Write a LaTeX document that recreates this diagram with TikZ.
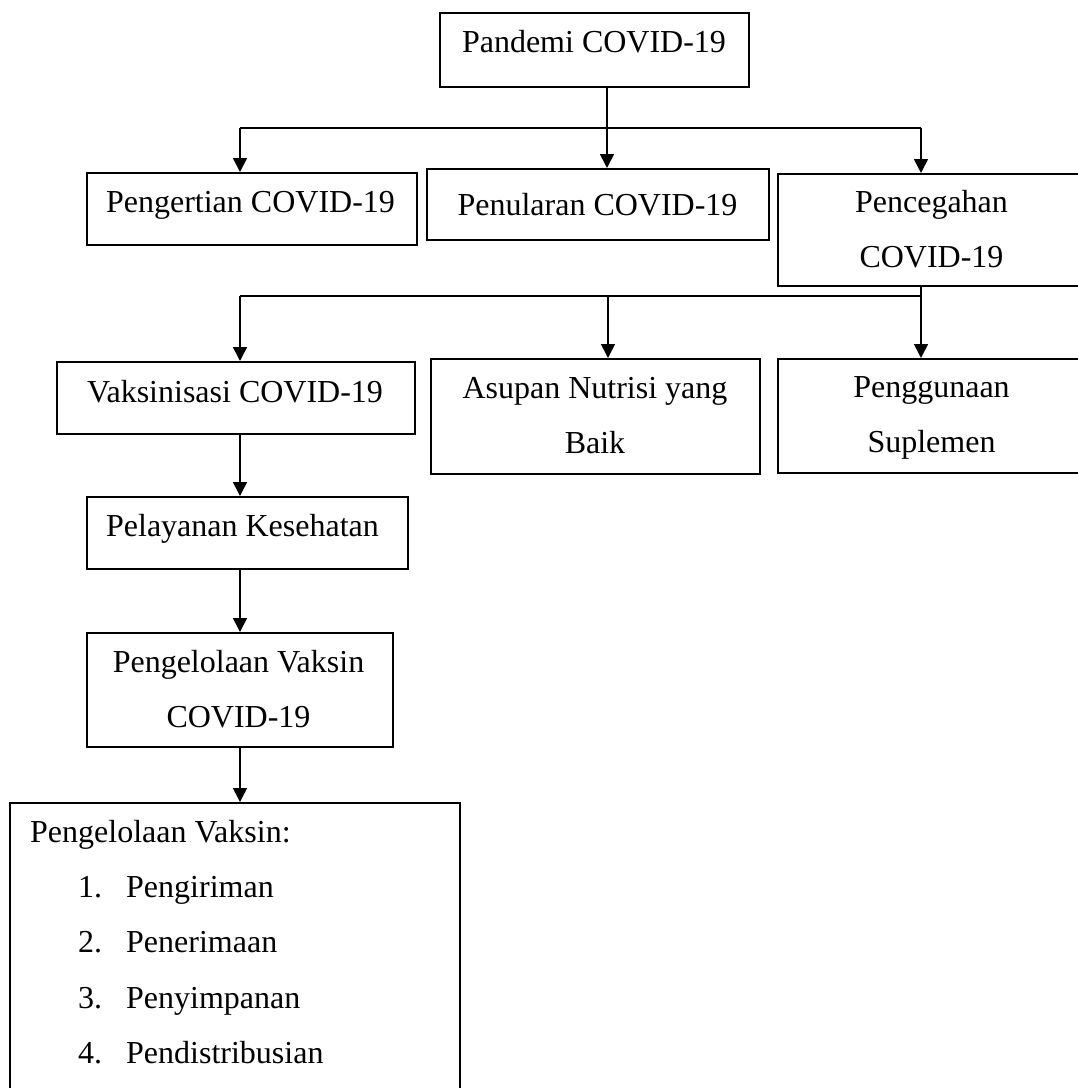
\documentclass[tikz,border=0pt]{standalone}
\usepackage{fontspec}
\setmainfont{Liberation Serif}
\usetikzlibrary{arrows.meta}
\begin{document}
\begin{tikzpicture}[x=1pt,y=-1pt,
  box/.style={draw, line width=1.5pt, rectangle, inner sep=0pt, anchor=north west},
  txt/.style={anchor=base, inner sep=0pt, font=\fontsize{32}{38}\selectfont},
  txtl/.style={anchor=base west, inner sep=0pt, font=\fontsize{32}{38}\selectfont},
  conn/.style={line width=1.6pt},
  arr/.style={line width=1.6pt, -{Triangle[length=14pt,width=14pt]}}]
\useasboundingbox (0,0) rectangle (1078,1088);
% boxes
\node[box, minimum width=309pt, minimum height=74pt] (pandemi) at (439,12) {};
\node[box, minimum width=330pt, minimum height=72pt] (pengertian) at (86,172) {};
\node[box, minimum width=342pt, minimum height=71pt] (penularan) at (426,168) {};
\node[box, minimum width=310pt, minimum height=112pt] (pencegahan) at (777,173) {};
\node[box, minimum width=358pt, minimum height=72pt] (vaksin) at (56,361) {};
\node[box, minimum width=329pt, minimum height=115pt] (asupan) at (430,358) {};
\node[box, minimum width=310pt, minimum height=114pt] (penggunaan) at (777,358) {};
\node[box, minimum width=321pt, minimum height=72pt] (pelayanan) at (86,496) {};
\node[box, minimum width=306pt, minimum height=114pt] (pengelolaan) at (86,632) {};
\node[box, minimum width=450pt, minimum height=300pt] (daftar) at (9,802) {};
% texts
\node[txt] (t-pandemi) at (594,52) {Pandemi COVID-19};
\node[txt] (t-pengertian) at (250.5,212) {Pengertian COVID-19};
\node[txt] (t-penularan) at (597.5,215) {Penularan COVID-19};
\node[txt] (t-pencegahan1) at (931.5,212) {Pencegahan};
\node[txt] (t-pencegahan2) at (931.5,267) {COVID-19};
\node[txt] (t-vaksin) at (235,402) {Vaksinisasi COVID-19};
\node[txt] (t-asupan1) at (595,398) {Asupan Nutrisi yang};
\node[txt] (t-asupan2) at (595,453) {Baik};
\node[txt] (t-penggunaan1) at (931.5,397) {Penggunaan};
\node[txt] (t-penggunaan2) at (931.5,452) {Suplemen};
\node[txt] (t-pelayanan) at (242.5,536) {Pelayanan Kesehatan};
\node[txt] (t-pengelolaan1) at (238.5,672) {Pengelolaan Vaksin};
\node[txt] (t-pengelolaan2) at (238.5,727) {COVID-19};
\node[txtl] (t-judul) at (30,842) {Pengelolaan Vaksin:};
\node[txtl] (n1) at (78,897) {1.};
\node[txtl] (i1) at (126,897) {Pengiriman};
\node[txtl] (n2) at (78,952) {2.};
\node[txtl] (i2) at (126,952) {Penerimaan};
\node[txtl] (n3) at (78,1008) {3.};
\node[txtl] (i3) at (126,1008) {Penyimpanan};
\node[txtl] (n4) at (78,1063) {4.};
\node[txtl] (i4) at (126,1063) {Pendistribusian};
% junctions
\coordinate (h1L) at (240,128);
\coordinate (h1M) at (607,128);
\coordinate (h1R) at (921,128);
\coordinate (h2L) at (240,296);
\coordinate (h2M) at (608,296);
\coordinate (h2R) at (921,296);
% connectors level 1
\draw[conn] (h1L) -- (h1R);
\draw[arr] (pandemi.south -| h1M) -- (penularan.north -| h1M);
\draw[arr] (h1L) -- (pengertian.north -| h1L);
\draw[arr] (h1R) -- (pencegahan.north -| h1R);
% connectors level 2
\draw[conn] (h2L) -- (h2R);
\draw[arr] (pencegahan.south -| h2R) -- (penggunaan.north -| h2R);
\draw[arr] (h2M) -- (asupan.north -| h2M);
\draw[arr] (h2L) -- (vaksin.north -| h2L);
% vertical chain
\draw[arr] (vaksin.south -| h2L) -- (pelayanan.north -| h2L);
\draw[arr] (pelayanan.south -| h2L) -- (pengelolaan.north -| h2L);
\draw[arr] (pengelolaan.south -| h2L) -- (daftar.north -| h2L);
\end{tikzpicture}
\end{document}
